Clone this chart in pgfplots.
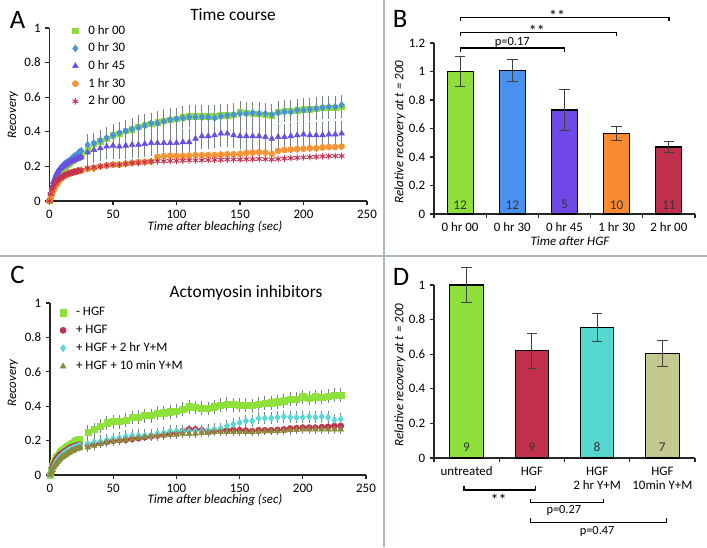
\documentclass[border=0pt]{standalone}
\usepackage{pgfplots}
\pgfplotsset{compat=1.18}
\usepackage{fontspec}
\setmainfont{Carlito}
\definecolor{sepc}{HTML}{AEB9B9}
\definecolor{errg}{HTML}{768383}
\definecolor{agreen}{HTML}{8FDC3C}
\definecolor{ablue}{HTML}{4A90E2}
\definecolor{apurple}{HTML}{6A50E0}
\definecolor{aorange}{HTML}{F79535}
\definecolor{ared}{HTML}{C8304F}
\definecolor{bgreen}{HTML}{8FE03A}
\definecolor{bblue}{HTML}{4A90F0}
\definecolor{bpurple}{HTML}{7048E8}
\definecolor{borange}{HTML}{FB8A30}
\definecolor{bred}{HTML}{C0304A}
\definecolor{cgreen}{HTML}{8EE03A}
\definecolor{cred}{HTML}{C0304A}
\definecolor{ccyan}{HTML}{5CD6D6}
\definecolor{colive}{HTML}{8B8B3C}
\definecolor{dkhaki}{HTML}{C3C98F}
\definecolor{dcyan}{HTML}{55D8D0}
\pgfplotsset{
  base/.style={
    scale only axis, anchor=south west, clip=false,
    axis lines=left, axis line style={-, line width=0.9pt, black!85},
    tick align=outside, tick style={black!85, line width=0.8pt}, major tick length=3pt,
    tick label style={font=\fontsize{9.7}{11}\selectfont},
    /pgf/number format/assume math mode=true,
  },
  leg/.style={legend image code/.code={\path[draw=none,fill=none] (0cm,0cm) (0.4cm,0cm); \draw[##1] plot coordinates {(0.1cm,0cm)};}},
  errf/.style={error bars/y dir=both, error bars/y fixed=#1, error bars/error mark=none,
    error bars/error bar style={color=errg, line width=0.7pt}},
  barerr/.style={error bars/y dir=both, error bars/y explicit, error bars/error mark=-,
    error bars/error mark options={rotate=90, black!75, line width=0.8pt, mark size=4pt},
    error bars/error bar style={black!75, line width=0.8pt}},
}
\begin{document}
\begin{tikzpicture}
\begin{scope}[x=0.75pt,y=-0.75pt]
\path[use as bounding box] (0,0) rectangle (707,547);
\draw[sepc, line width=0.8pt] (384,0) -- (384,547);
\draw[sepc, line width=0.8pt] (0,256) -- (707,256);
\node[font=\fontsize{20}{22}\selectfont] at (17.5,20) {A};
\node[font=\fontsize{20}{22}\selectfont] at (400,19) {B};
\node[font=\fontsize{20}{22}\selectfont] at (17.5,275) {C};
\node[font=\fontsize{20}{22}\selectfont] at (401,277) {D};
\node[font=\fontsize{13}{15}\selectfont] at (233,15) {Time course};
\node[font=\fontsize{13}{15}\selectfont] at (246,293) {Actomyosin inhibitors};
\node[font=\itshape\fontsize{9.7}{12}\selectfont] at (215,227) {Time after bleaching (sec)};
\node[font=\itshape\fontsize{9.7}{12}\selectfont] at (215,500) {Time after bleaching (sec)};
\node[font=\itshape\fontsize{9.7}{12}\selectfont] at (570,241) {Time after HGF};
\node[font=\itshape\fontsize{9.7}{12}\selectfont, rotate=90] at (13,115) {Recovery};
\node[font=\itshape\fontsize{9.7}{12}\selectfont, rotate=90] at (13,383) {Recovery};
\node[font=\itshape\fontsize{9.7}{12}\selectfont, rotate=90] at (400,132) {Relative recovery at t = 200};
\node[font=\itshape\fontsize{9.7}{12}\selectfont, rotate=90] at (400,375) {Relative recovery at t = 200};
\end{scope}

% ---------------- Panel A ----------------
\begin{axis}[base, leg, at={(37.125pt,-150.75pt)}, width=238.125pt, height=129.75pt,
  xmin=0, xmax=250, ymin=0, ymax=1, xtick={0,50,100,150,200,250}, ytick={0,0.2,0.4,0.6,0.8,1},
  legend style={draw=none, fill=none, at={(axis cs:14,1.042)}, anchor=north west,
    font=\fontsize{9.7}{11}\selectfont, row sep=2.6pt, nodes={inner sep=1.2pt}},
  legend cell align=left]
\addplot[only marks, mark=square*, mark size=2pt, color=agreen, errf=0.065] coordinates {
(30,0.30)(35,0.33)(40,0.345)(45,0.36)(50,0.38)(55,0.39)(60,0.405)(65,0.415)(70,0.43)(75,0.44)(80,0.445)(85,0.455)(90,0.465)(95,0.47)(100,0.475)(105,0.485)(110,0.49)(115,0.49)(120,0.49)(125,0.49)(130,0.49)(135,0.495)(140,0.495)(145,0.5)(150,0.515)(155,0.51)(160,0.505)(165,0.505)(170,0.5)(175,0.495)(180,0.515)(185,0.52)(190,0.52)(195,0.525)(200,0.53)(205,0.53)(210,0.535)(215,0.54)(220,0.54)(225,0.54)(230,0.545)};
\addlegendentry{0 hr 00}
\addplot[only marks, mark=diamond*, mark size=2.6pt, color=ablue, errf=0.06] coordinates {
(30,0.325)(35,0.335)(40,0.35)(45,0.365)(50,0.38)(55,0.395)(60,0.405)(65,0.415)(70,0.425)(75,0.435)(80,0.45)(85,0.45)(90,0.46)(95,0.47)(100,0.475)(105,0.48)(110,0.485)(115,0.485)(120,0.485)(125,0.485)(130,0.48)(135,0.49)(140,0.495)(145,0.5)(150,0.505)(155,0.505)(160,0.51)(165,0.505)(170,0.505)(175,0.5)(180,0.51)(185,0.515)(190,0.515)(195,0.525)(200,0.525)(205,0.53)(210,0.535)(215,0.54)(220,0.545)(225,0.545)(230,0.555)};
\addlegendentry{0 hr 30}
\addplot[only marks, mark=triangle*, mark size=2.5pt, color=apurple, errf=0.075] coordinates {
(30,0.28)(35,0.295)(40,0.305)(45,0.315)(50,0.32)(55,0.315)(60,0.32)(65,0.325)(70,0.325)(75,0.33)(80,0.335)(85,0.335)(90,0.335)(95,0.335)(100,0.335)(105,0.34)(110,0.34)(115,0.36)(120,0.375)(125,0.375)(130,0.38)(135,0.39)(140,0.39)(145,0.38)(150,0.375)(155,0.375)(160,0.375)(165,0.375)(170,0.37)(175,0.36)(180,0.37)(185,0.37)(190,0.375)(195,0.38)(200,0.385)(205,0.38)(210,0.38)(215,0.38)(220,0.385)(225,0.385)(230,0.39)};
\addlegendentry{0 hr 45}
\addplot[only marks, mark=*, mark size=2.3pt, color=aorange, errf=0.02] coordinates {
(30,0.185)(35,0.19)(40,0.2)(45,0.205)(50,0.21)(55,0.21)(60,0.215)(65,0.22)(70,0.225)(75,0.225)(80,0.228)(85,0.255)(90,0.26)(95,0.262)(100,0.26)(105,0.26)(110,0.262)(115,0.265)(120,0.265)(125,0.265)(130,0.265)(135,0.268)(140,0.27)(145,0.27)(150,0.272)(155,0.278)(160,0.28)(165,0.282)(170,0.28)(175,0.272)(180,0.29)(185,0.295)(190,0.298)(195,0.3)(200,0.302)(205,0.305)(210,0.305)(215,0.31)(220,0.312)(225,0.312)(230,0.315)};
\addlegendentry{1 hr 30}
\addplot[only marks, mark=asterisk, mark size=2.5pt, mark options={line width=0.7pt}, color=ared, errf=0.012] coordinates {
(30,0.19)(35,0.195)(40,0.2)(45,0.205)(50,0.21)(55,0.21)(60,0.215)(65,0.22)(70,0.22)(75,0.225)(80,0.228)(85,0.23)(90,0.23)(95,0.232)(100,0.232)(105,0.234)(110,0.235)(115,0.235)(120,0.236)(125,0.237)(130,0.238)(135,0.238)(140,0.24)(145,0.24)(150,0.24)(155,0.242)(160,0.242)(165,0.243)(170,0.242)(175,0.24)(180,0.243)(185,0.246)(190,0.248)(195,0.25)(200,0.252)(205,0.254)(210,0.256)(215,0.258)(220,0.259)(225,0.26)(230,0.26)};
\addlegendentry{2 hr 00}
% early dense parts
\addplot[forget plot, only marks, mark=square*, mark size=2pt, color=agreen, errf=0.02] coordinates {
(0,0)(1,0.03)(2,0.055)(3,0.075)(4,0.095)(5,0.11)(6,0.13)(7,0.145)(8,0.16)(9,0.17)(10,0.18)(11,0.19)(12,0.195)(13,0.2)(14,0.21)(15,0.215)(16,0.22)(17,0.23)(18,0.235)(19,0.24)(20,0.245)(21,0.25)(22,0.26)(23,0.265)(24,0.27)(25,0.275)};
\addplot[forget plot, only marks, mark=diamond*, mark size=2.6pt, color=ablue, errf=0.02] coordinates {
(0,0)(1,0.04)(2,0.07)(3,0.09)(4,0.11)(5,0.13)(6,0.15)(7,0.165)(8,0.18)(9,0.19)(10,0.2)(11,0.21)(12,0.215)(13,0.22)(14,0.225)(15,0.23)(16,0.235)(17,0.24)(18,0.25)(19,0.255)(20,0.26)(21,0.265)(22,0.27)(23,0.28)(24,0.285)(25,0.29)};
\addplot[forget plot, only marks, mark=triangle*, mark size=2.5pt, color=apurple, errf=0.02] coordinates {
(0,0)(1,0.05)(2,0.08)(3,0.11)(4,0.13)(5,0.15)(6,0.165)(7,0.175)(8,0.185)(9,0.19)(10,0.195)(11,0.2)(12,0.205)(13,0.21)(14,0.215)(15,0.22)(16,0.225)(17,0.23)(18,0.23)(19,0.235)(20,0.24)(21,0.24)(22,0.245)(23,0.25)(24,0.25)(25,0.255)};
\addplot[forget plot, only marks, mark=*, mark size=2.3pt, color=aorange, errf=0.015] coordinates {
(0,0)(1,0.02)(2,0.04)(3,0.06)(4,0.075)(5,0.09)(6,0.1)(7,0.11)(8,0.12)(9,0.13)(10,0.135)(11,0.14)(12,0.145)(13,0.15)(14,0.155)(15,0.155)(16,0.16)(17,0.16)(18,0.165)(19,0.165)(20,0.17)(21,0.17)(22,0.17)(23,0.175)(24,0.175)(25,0.175)};
\addplot[forget plot, only marks, mark=asterisk, mark size=2.5pt, mark options={line width=0.7pt}, color=ared, errf=0.01] coordinates {
(0,0)(1,0.04)(2,0.065)(3,0.08)(4,0.095)(5,0.105)(6,0.115)(7,0.125)(8,0.13)(9,0.135)(10,0.14)(11,0.145)(12,0.15)(13,0.155)(14,0.155)(15,0.16)(16,0.16)(17,0.165)(18,0.165)(19,0.17)(20,0.17)(21,0.17)(22,0.175)(23,0.175)(24,0.175)(25,0.18)};
\end{axis}

% ---------------- Panel B ----------------
\begin{axis}[base, at={(325.5pt,-160.5pt)}, width=195.75pt, height=128.25pt,
  xmin=-0.5, xmax=4.5, ymin=0, ymax=1.2, ytick={0,0.2,0.4,0.6,0.8,1,1.2},
  xtick={-0.5,0.5,1.5,2.5,3.5,4.5}, xticklabels={},
  extra x ticks={0,1,2,3,4}, extra x tick labels={0 hr 00,0 hr 30,0 hr 45,1 hr 30,2 hr 00},
  extra x tick style={tick style={draw=none}}]
\addplot[ybar, bar shift=0pt, bar width=19.5pt, fill=bgreen, draw=black, line width=0.8pt, barerr] coordinates {(0,1.0) +- (0,0.107)};
\addplot[ybar, bar shift=0pt, bar width=19.5pt, fill=bblue, draw=black, line width=0.8pt, barerr] coordinates {(1,1.005) +- (0,0.076)};
\addplot[ybar, bar shift=0pt, bar width=19.5pt, fill=bpurple, draw=black, line width=0.8pt, barerr] coordinates {(2,0.73) +- (0,0.145)};
\addplot[ybar, bar shift=0pt, bar width=19.5pt, fill=borange, draw=black, line width=0.8pt, barerr] coordinates {(3,0.565) +- (0,0.048)};
\addplot[ybar, bar shift=0pt, bar width=19.5pt, fill=bred, draw=black, line width=0.8pt, barerr] coordinates {(4,0.47) +- (0,0.04)};
\foreach \xx/\nn in {0/12,1/12,2/5,3/10,4/11}{
  \edef\tmp{\noexpand\node[font=\noexpand\fontsize{10}{12}\noexpand\selectfont, text=black!80] at (axis cs:\xx,0.065) {\nn};}\tmp
}
\draw[black, line width=0.9pt] (axis cs:0,1.14) -- (axis cs:0,1.165) -- (axis cs:2,1.165) -- (axis cs:2,1.14);
\node[font=\fontsize{9.3}{11}\selectfont, anchor=base] at (axis cs:1.0,1.18) {p=0.17};
\draw[black, line width=0.9pt] (axis cs:0,1.25) -- (axis cs:0,1.273) -- (axis cs:3,1.273) -- (axis cs:3,1.25);
\node[font=\fontsize{12}{13}\selectfont] at (axis cs:1.47,1.285) {**};
\draw[black, line width=0.9pt] (axis cs:0,1.357) -- (axis cs:0,1.38) -- (axis cs:4,1.38) -- (axis cs:4,1.357);
\node[font=\fontsize{12}{13}\selectfont] at (axis cs:1.86,1.39) {**};
\end{axis}

% ---------------- Panel C ----------------
\begin{axis}[base, leg, at={(37.5pt,-356.25pt)}, width=237pt, height=129pt,
  xmin=0, xmax=250, ymin=0, ymax=1, xtick={0,50,100,150,200,250}, ytick={0,0.2,0.4,0.6,0.8,1},
  legend style={draw=none, fill=none, at={(axis cs:4,1.0)}, anchor=north west,
    font=\fontsize{9.7}{11}\selectfont, row sep=3pt, nodes={inner sep=1.2pt}},
  legend cell align=left]
\addplot[only marks, mark=square*, mark size=2.3pt, color=cgreen, errf=0.04] coordinates {
(30,0.248)(35,0.265)(40,0.285)(45,0.304)(50,0.31)(55,0.31)(60,0.32)(65,0.335)(70,0.338)(75,0.345)(80,0.345)(85,0.359)(90,0.362)(95,0.368)(100,0.37)(105,0.382)(110,0.397)(115,0.393)(120,0.388)(125,0.386)(130,0.397)(135,0.405)(140,0.413)(145,0.409)(150,0.407)(155,0.407)(160,0.403)(165,0.413)(170,0.417)(175,0.42)(180,0.426)(185,0.432)(190,0.44)(195,0.44)(200,0.455)(205,0.447)(210,0.455)(215,0.453)(220,0.46)(225,0.465)(230,0.465)};
\addlegendentry{- HGF}
\addplot[only marks, mark=*, mark size=2.3pt, color=cred, errf=0.02] coordinates {
(30,0.175)(35,0.18)(40,0.185)(45,0.193)(50,0.2)(55,0.203)(60,0.205)(65,0.21)(70,0.215)(75,0.22)(80,0.225)(85,0.23)(90,0.235)(95,0.24)(100,0.245)(105,0.255)(110,0.265)(115,0.265)(120,0.26)(125,0.255)(130,0.255)(135,0.26)(140,0.26)(145,0.262)(150,0.26)(155,0.258)(160,0.255)(165,0.26)(170,0.26)(175,0.26)(180,0.262)(185,0.265)(190,0.27)(195,0.272)(200,0.275)(205,0.275)(210,0.275)(215,0.278)(220,0.28)(225,0.285)(230,0.285)};
\addlegendentry{+ HGF}
\addplot[only marks, mark=diamond*, mark size=2.6pt, color=ccyan, errf=0.035] coordinates {
(30,0.18)(35,0.19)(40,0.195)(45,0.205)(50,0.21)(55,0.215)(60,0.225)(65,0.23)(70,0.23)(75,0.23)(80,0.23)(85,0.24)(90,0.245)(95,0.255)(100,0.255)(105,0.255)(110,0.255)(115,0.255)(120,0.255)(125,0.26)(130,0.265)(135,0.27)(140,0.285)(145,0.295)(150,0.305)(155,0.315)(160,0.315)(165,0.33)(170,0.33)(175,0.33)(180,0.335)(185,0.34)(190,0.335)(195,0.335)(200,0.335)(205,0.34)(210,0.335)(215,0.34)(220,0.335)(225,0.32)(230,0.325)};
\addlegendentry{+ HGF + 2 hr Y+M}
\addplot[only marks, mark=triangle*, mark size=2.5pt, color=colive, errf=0.025] coordinates {
(30,0.16)(35,0.17)(40,0.18)(45,0.19)(50,0.195)(55,0.2)(60,0.205)(65,0.21)(70,0.215)(75,0.22)(80,0.225)(85,0.225)(90,0.23)(95,0.235)(100,0.235)(105,0.24)(110,0.24)(115,0.24)(120,0.245)(125,0.245)(130,0.25)(135,0.25)(140,0.25)(145,0.25)(150,0.25)(155,0.25)(160,0.25)(165,0.252)(170,0.255)(175,0.255)(180,0.255)(185,0.258)(190,0.26)(195,0.262)(200,0.265)(205,0.265)(210,0.265)(215,0.265)(220,0.265)(225,0.265)(230,0.265)};
\addlegendentry{+ HGF + 10 min Y+M}
\addplot[forget plot, only marks, mark=square*, mark size=2.3pt, color=cgreen, errf=0.015] coordinates {
(0,0)(1,0.03)(2,0.05)(3,0.07)(4,0.085)(5,0.1)(6,0.11)(7,0.12)(8,0.13)(9,0.14)(10,0.145)(11,0.15)(12,0.155)(13,0.16)(14,0.165)(15,0.17)(16,0.175)(17,0.18)(18,0.185)(19,0.19)(20,0.195)(21,0.2)(22,0.2)(23,0.205)};
\addplot[forget plot, only marks, mark=*, mark size=1.6pt, color=cred, errf=0.01] coordinates {
(0,0)(1,0.04)(2,0.06)(3,0.075)(4,0.09)(5,0.1)(6,0.11)(7,0.12)(8,0.125)(9,0.13)(10,0.135)(11,0.14)(12,0.145)(13,0.15)(14,0.155)(15,0.16)(16,0.165)(17,0.165)(18,0.17)(19,0.17)(20,0.175)(21,0.175)(22,0.18)(23,0.18)(24,0.18)};
\addplot[forget plot, only marks, mark=diamond*, mark size=2.6pt, color=ccyan, errf=0.015] coordinates {
(0,0)(1,0.02)(2,0.035)(3,0.05)(4,0.065)(5,0.08)(6,0.09)(7,0.1)(8,0.105)(9,0.11)(10,0.12)(11,0.125)(12,0.13)(13,0.135)(14,0.14)(15,0.145)(16,0.15)(17,0.15)(18,0.155)(19,0.16)(20,0.16)(21,0.165)(22,0.165)(23,0.17)(24,0.17)};
\addplot[forget plot, only marks, mark=triangle*, mark size=2.5pt, color=colive, errf=0.015] coordinates {
(0,0)(1,0.015)(2,0.03)(3,0.045)(4,0.055)(5,0.065)(6,0.075)(7,0.085)(8,0.09)(9,0.1)(10,0.105)(11,0.11)(12,0.115)(13,0.12)(14,0.125)(15,0.13)(16,0.135)(17,0.14)(18,0.14)(19,0.145)(20,0.15)(21,0.15)(22,0.155)(23,0.155)(24,0.16)};
\end{axis}

% ---------------- Panel D ----------------
\begin{axis}[base, at={(325.5pt,-343.5pt)}, width=195.75pt, height=129.75pt,
  xmin=-0.5, xmax=3.5, ymin=0, ymax=1, ytick={0,0.2,0.4,0.6,0.8,1},
  xtick={-0.5,0.5,1.5,2.5,3.5}, xticklabels={},
  extra x ticks={0,1,2,3}, extra x tick labels={untreated,HGF,{HGF\\2 hr Y+M},{HGF\\10min Y+M}},
  extra x tick style={tick style={draw=none}},
  xticklabel style={align=center}]
\addplot[ybar, bar shift=0pt, bar width=25pt, fill=bgreen, draw=black, line width=0.8pt, barerr] coordinates {(0,1.0) +- (0,0.1)};
\addplot[ybar, bar shift=0pt, bar width=25pt, fill=bred, draw=black, line width=0.8pt, barerr] coordinates {(1,0.62) +- (0,0.1)};
\addplot[ybar, bar shift=0pt, bar width=25pt, fill=dcyan, draw=black, line width=0.8pt, barerr] coordinates {(2,0.755) +- (0,0.08)};
\addplot[ybar, bar shift=0pt, bar width=25pt, fill=dkhaki, draw=black, line width=0.8pt, barerr] coordinates {(3,0.605) +- (0,0.075)};
\foreach \xx/\nn in {0/9,1/9,2/8,3/7}{
  \edef\tmp{\noexpand\node[font=\noexpand\fontsize{10}{12}\noexpand\selectfont, text=black!80] at (axis cs:\xx,0.065) {\nn};}\tmp
}
\draw[black, line width=0.9pt] (axis cs:-0.04,-0.162) -- (axis cs:-0.04,-0.185) -- (axis cs:1.06,-0.185) -- (axis cs:1.06,-0.162);
\node[font=\fontsize{12}{13}\selectfont] at (axis cs:0.49,-0.24) {**};
\draw[black, line width=0.9pt] (axis cs:0.98,-0.235) -- (axis cs:0.98,-0.258) -- (axis cs:2.1,-0.258) -- (axis cs:2.1,-0.235);
\node[font=\fontsize{9.3}{11}\selectfont] at (axis cs:1.49,-0.305) {p=0.27};
\draw[black, line width=0.9pt] (axis cs:0.98,-0.349) -- (axis cs:0.98,-0.372) -- (axis cs:3.06,-0.372) -- (axis cs:3.06,-0.349);
\node[font=\fontsize{9.3}{11}\selectfont] at (axis cs:2.0,-0.426) {p=0.47};
\end{axis}
\end{tikzpicture}
\end{document}
